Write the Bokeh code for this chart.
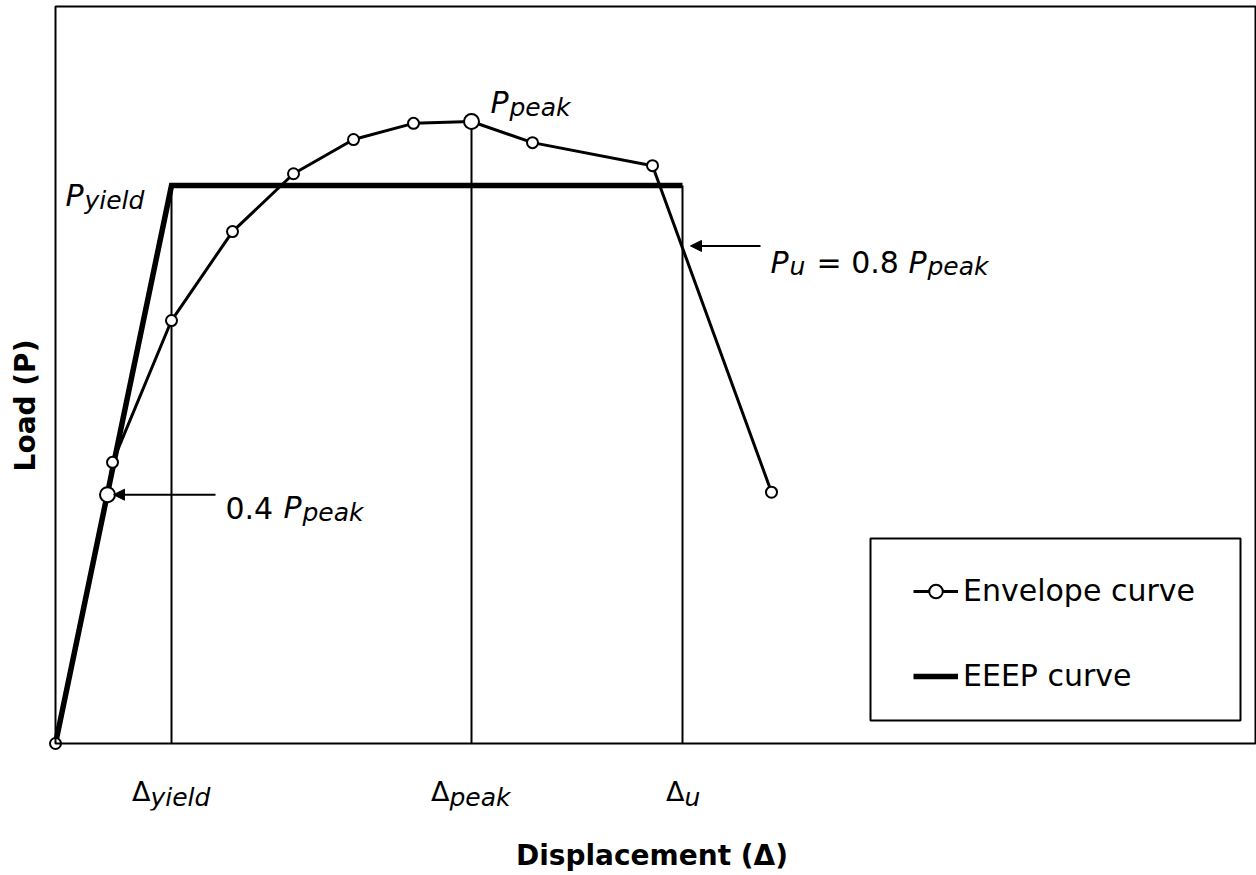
from bokeh.plotting import figure
from bokeh.models import (Range1d, FixedTicker, Label, Arrow, NormalHead, Legend,
                          LegendItem, BoxAnnotation)
from bokeh.embed import file_html
from bokeh.resources import INLINE

# ---------------- data ----------------
env_x = [0, 5.2, 5.7, 11.6, 17.7, 23.8, 29.8, 35.8, 41.6, 47.7, 59.7, 71.6]
env_y = [0, 40.0, 45.2, 68.0, 82.3, 91.6, 97.1, 99.7, 100.0, 96.6, 92.9, 40.4]
key_points = [1, 8]                 # 0.4 Ppeak point and peak point (large markers)
eeep_x = [0, 11.6, 62.7]
eeep_y = [0, 89.7, 89.7]
mark_x = [11.6, 41.6, 62.7]          # Δyield, Δpeak, Δu
mark_top = [89.7, 100.0, 89.7]
mark_sub = ["yield", "peak", "u"]
P_PEAK = 100.0
P_YIELD = 89.7
DELTA_U = 62.7

# ---------------- layout constants ----------------
FONT = "DejaVu Sans"
YPX = 6.22                            # px per load unit
XMAX, YMAX = 120.0, 118.49            # axes box
W, H = 1256, 875
FRAME_BOTTOM = 810                    # px from top of canvas
small_x = [x for i, x in enumerate(env_x) if i not in key_points]
small_y = [y for i, y in enumerate(env_y) if i not in key_points]
big_x = [env_x[i] for i in key_points]
big_y = [env_y[i] for i in key_points]

p = figure(width=W, height=H, output_backend="svg", toolbar_location=None,
           x_range=Range1d(-0.8, 120.1),
           y_range=Range1d(-(FRAME_BOTTOM - 743) / YPX, 743 / YPX),
           min_border_left=47, min_border_right=0, min_border_top=0,
           min_border_bottom=H - FRAME_BOTTOM)
p.outline_line_color = None
p.xgrid.visible = False
p.ygrid.visible = False
for ax in (p.xaxis[0], p.yaxis[0]):
    ax.ticker = FixedTicker(ticks=[])
    ax.axis_line_color = None
    ax.major_tick_line_color = None
    ax.minor_tick_line_color = None
    ax.major_tick_out = 0
    ax.minor_tick_out = 0
    ax.major_label_standoff = 0
    ax.axis_label_text_font = FONT
    ax.axis_label_text_font_style = "bold"
    ax.axis_label_text_font_size = "28px"
    ax.axis_label_text_color = "black"
p.xaxis.axis_label = "Displacement (Δ)"
p.xaxis.axis_label_standoff = 28
p.yaxis.axis_label = "Load (P)"
p.yaxis.axis_label_standoff = 6

# axes box
p.add_layout(BoxAnnotation(left=0, right=XMAX, bottom=0, top=YMAX, fill_alpha=0,
                           line_color="black", line_alpha=1, line_width=2))

# vertical reference lines
p.segment(x0=mark_x, y0=[0] * len(mark_x), x1=mark_x, y1=mark_top,
          line_color="black", line_width=2)
# EEEP curve
eeep = p.line(eeep_x, eeep_y, line_color="black", line_width=5.5, line_join="miter")
# envelope curve
env = p.line(env_x, env_y, line_color="black", line_width=3)
pts = p.scatter(small_x, small_y, size=11, fill_color="white", line_color="black",
                line_width=2)
p.scatter(big_x, big_y, size=15, fill_color="white", line_color="black", line_width=2)


def lab(text, x, y, dx, dy, size, style="normal", align="left"):
    p.add_layout(Label(x=x, y=y, x_offset=dx, y_offset=dy, text=text,
                       text_font=FONT, text_font_size=f"{size}px",
                       text_font_style=style, text_align=align,
                       text_baseline="alphabetic", text_color="black"))


# arrows
a1_x0, a1_x1, a1_y = env_x[1] + 10.8, env_x[1] + 0.6, 0.4 * P_PEAK
a2_x0, a2_x1, a2_y = DELTA_U + 7.8, DELTA_U + 0.8, 0.8 * P_PEAK
for xs, xe, yy in [(a1_x0, a1_x1, a1_y), (a2_x0, a2_x1, a2_y)]:
    p.add_layout(Arrow(end=NormalHead(size=11, fill_color="black", line_color="black",
                                      line_width=1),
                       x_start=xs, y_start=yy, x_end=xe, y_end=yy,
                       line_color="black", line_width=2))

# P_yield
lab("P", 0, P_YIELD, 10, -10, 30, "italic")
lab("yield", 0, P_YIELD, 29, -15, 25, "italic")
# P_peak
lab("P", env_x[8], P_PEAK, 19, 19, 30, "italic")
lab("peak", env_x[8], P_PEAK, 38, 14, 25, "italic")
# 0.4 P_peak
lab("0.4", a1_x0, a1_y, 10, -13, 30)
lab("P", a1_x0, a1_y, 68, -13, 30, "italic")
lab("peak", a1_x0, a1_y, 87, -18, 25, "italic")
# P_u = 0.8 P_peak
lab("P", a2_x0, a2_y, 10, -17, 30, "italic")
lab("u", a2_x0, a2_y, 29, -21, 25, "italic")
lab("= 0.8", a2_x0, a2_y, 56, -17, 30)
lab("P", a2_x0, a2_y, 148, -17, 30, "italic")
lab("peak", a2_x0, a2_y, 167, -21, 25, "italic")
# Δ labels under the axis
for mx, sub, dx in zip(mark_x, mark_sub, [-21, -22, 2]):
    lab("Δ", mx, 0, dx, -48, 27, "normal", "right")
    lab(sub, mx, 0, dx, -54, 25, "italic")

# legend box + legend
p.add_layout(BoxAnnotation(left=81.5, right=118.5, bottom=3.70, top=32.96,
                           fill_color="white", fill_alpha=1, line_color="black",
                           line_alpha=1, line_width=2))
legend = Legend(items=[LegendItem(label="Envelope curve", renderers=[env, pts]),
                       LegendItem(label="EEEP curve", renderers=[eeep])],
                location=(866, FRAME_BOTTOM - 693), border_line_color=None,
                background_fill_alpha=0,
                padding=0, margin=0, spacing=50, glyph_width=45, glyph_height=34,
                label_height=34, label_standoff=5, label_text_font=FONT,
                label_text_font_size="30px", label_text_color="black")
p.add_layout(legend)

open("out.html", "w").write(file_html(p, INLINE))
